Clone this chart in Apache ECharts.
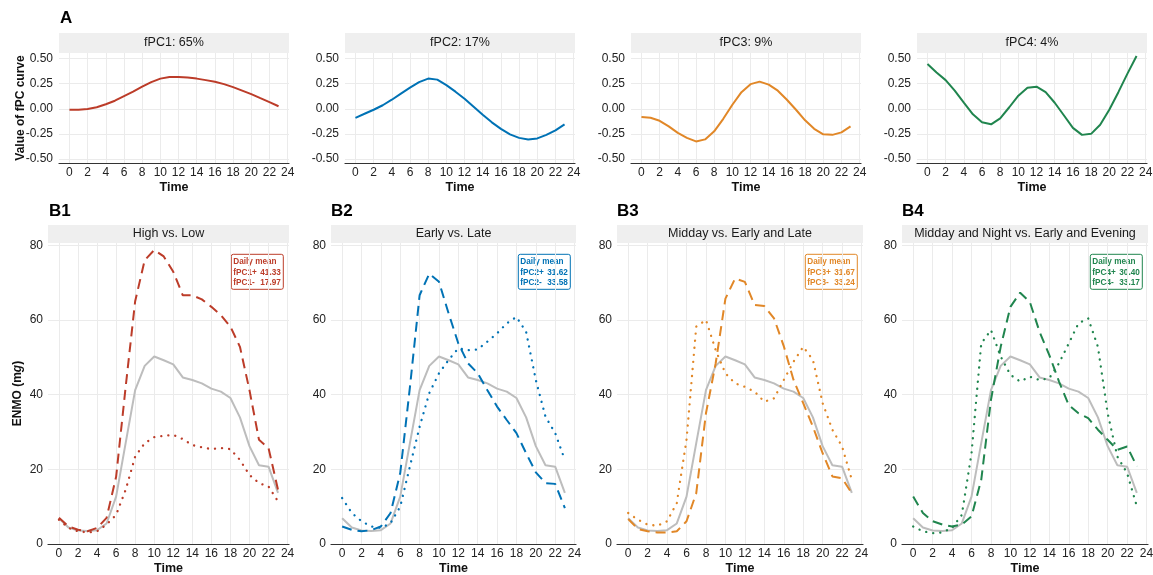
<!DOCTYPE html>
<html>
<head>
<meta charset="utf-8">
<script src="https://cdn.jsdelivr.net/npm/echarts@6/dist/echarts.min.js"></script>
<style>html,body{margin:0;padding:0;background:#fff}#c{width:1153px;height:575px}</style>
</head>
<body>
<div id="c"></div>
<script>
// ---------------- DATA ----------------
const hours = [0,1,2,3,4,5,6,7,8,9,10,11,12,13,14,15,16,17,18,19,20,21,22,23];
const xTicks = [0,2,4,6,8,10,12,14,16,18,20,22,24];
const yTicksA = [-0.5,-0.25,0,0.25,0.5];
const yTicksB = [0,20,40,60,80];

const fpcTitles = ['fPC1: 65%','fPC2: 17%','fPC3: 9%','fPC4: 4%'];
const fpc1 = [-0.01,-0.01,-0.003,0.015,0.045,0.08,0.125,0.17,0.22,0.265,0.30,0.315,0.317,0.31,0.30,0.285,0.268,0.245,0.215,0.18,0.145,0.105,0.066,0.025];
const fpc2 = [-0.09,-0.05,-0.01,0.035,0.09,0.15,0.21,0.265,0.30,0.29,0.235,0.17,0.10,0.02,-0.06,-0.135,-0.2,-0.255,-0.29,-0.305,-0.295,-0.26,-0.215,-0.155];
const fpc3 = [-0.083,-0.09,-0.12,-0.175,-0.24,-0.29,-0.325,-0.305,-0.225,-0.1,0.04,0.165,0.245,0.27,0.24,0.18,0.09,-0.01,-0.115,-0.2,-0.255,-0.26,-0.235,-0.175];
const fpc4 = [0.445,0.36,0.285,0.18,0.06,-0.055,-0.135,-0.155,-0.095,0.015,0.13,0.21,0.22,0.165,0.06,-0.065,-0.19,-0.26,-0.25,-0.16,-0.01,0.165,0.35,0.525];

const groupTitles = ['High vs. Low','Early vs. Late','Midday vs. Early and Late','Midday and Night vs. Early and Evening'];
const meanCurve = [6.9,4.4,3.6,3.5,3.7,5.5,12.7,27,41.2,47.7,50.2,49.2,48.1,44.6,43.9,43.0,41.6,40.8,39.1,33.9,26.2,21.1,20.7,13.7];
const pc1Plus  = [7,4.7,3.8,3.4,4.3,7,18,42,65,76,78.7,77,72.9,66.6,66.6,65.5,63.5,61.3,58.2,52.8,41.2,27.9,25.7,14.5];
const pc1Minus = [6.5,4.3,3.4,3.1,3.4,5.2,7.8,14.5,23.4,27,28.6,29,29.2,28.1,26.5,25.9,25.4,25.7,25.4,22.5,18.5,16.3,15.4,11.4];
const pc2Plus  = [4.7,3.8,3.4,3.7,4.7,8.3,19,42,66.6,72.4,70.2,61.7,53.7,48.4,45.7,41.2,36.8,33.2,29.7,24.3,19.2,16.3,16.1,9.6];
const pc2Minus = [12.3,8.3,6.1,4.7,4.3,5.6,10,20.8,31.4,40.4,45.7,49.3,52.4,51.9,52.1,54.2,56.4,59.1,60.8,56.8,43.9,34.1,29.7,22.5];
const pc3Plus  = [6.7,4,3.4,3.1,3.1,3.4,6.1,13.6,35,48.4,65.7,71.1,70.2,64,63.7,60.4,53,44,37.7,31.4,24.3,18.1,17.6,13.6];
const pc3Minus = [8.3,6.5,5.2,4.9,6.1,11,27.9,58.2,60,51.9,45.7,43,42.1,40.8,38.1,39,43.9,48.8,52.8,49.3,37.7,30.6,26.1,17.2];
const pc4Plus  = [12.7,8.3,6.1,5.2,4.7,5.2,7.4,17.2,38.6,52.8,63.5,67.3,64.8,56.8,50.6,43.5,37.2,35,33.7,30.6,27.9,25.2,26.1,20.8];
const pc4Minus = [4.7,3.4,2.9,3.1,4.3,7.8,24.3,53.7,57.3,50.2,45.3,43.5,44.8,43.9,44.4,48.4,53.7,59.1,60.4,52.8,35,23.4,19,10.1];

const plusNames = ['fPC1+','fPC2+','fPC3+','fPC4+'];
const minusNames = ['fPC1-','fPC2-','fPC3-','fPC4-'];
const dailyMeanPlus = [41.33,31.62,31.67,30.40];
const dailyMeanMinus = [17.97,33.58,33.24,33.17];

// ---------------- LAYOUT / STYLE ----------------
const colors = ['#BC3C29','#0072B5','#E18727','#20854E'];
const meanColor = '#BDBDBD';
const FF = '"Liberation Sans", Arial, Helvetica, sans-serif';
const gridColor = '#EBEBEB';

const topCurves = [fpc1,fpc2,fpc3,fpc4];
const plusCurves = [pc1Plus,pc2Plus,pc3Plus,pc4Plus];
const minusCurves = [pc1Minus,pc2Minus,pc3Minus,pc4Minus];
const toPts = arr => hours.map((h,i)=>[h, arr[i]]);

const topGrid = [0,1,2,3].map(i => ({left: 59 + 286*i, top: 53, width: 230, height: 110}));
const botLefts = [48, 331, 617, 902];
const botWidths = [241, 245, 246, 246];
const botGrid = [0,1,2,3].map(i => ({left: botLefts[i], top: 243, width: botWidths[i], height: 301}));
const grids = topGrid.concat(botGrid);

const xAxes = [], yAxes = [], series = [], graphics = [];

grids.forEach((g, k) => {
  xAxes.push({
    type: 'value', gridIndex: k, min: -1.15, max: 24.15,
    axisLine: {show: true, onZero: false, lineStyle: {color: '#333', width: 1.2}},
    axisTick: {show: false, customValues: xTicks},
    axisLabel: {customValues: xTicks, fontSize: 12, color: '#222', fontFamily: FF, margin: 4},
    splitLine: {show: true, lineStyle: {color: gridColor, width: 1}},
    name: 'Time', nameLocation: 'middle', nameGap: 18.5, nameMoveOverlap: false,
    nameTextStyle: {fontWeight: 'bold', fontSize: 12.5, color: '#111', fontFamily: FF}
  });
});

topGrid.forEach((g, i) => {
  yAxes.push({
    type: 'value', gridIndex: i, min: -0.54, max: 0.555,
    axisLine: {show: false, onZero: false},
    axisTick: {show: false, customValues: yTicksA},
    axisLabel: {customValues: yTicksA, fontSize: 12, color: '#222', fontFamily: FF, margin: 6,
      formatter: v => v.toFixed(2)},
    splitLine: {show: true, lineStyle: {color: gridColor, width: 1}},
    name: i === 0 ? 'Value of fPC curve' : '', nameLocation: 'middle', nameRotate: 90, nameGap: 32,
    nameMoveOverlap: false,
    nameTextStyle: {fontWeight: 'bold', fontSize: 12, color: '#111', fontFamily: FF}
  });
  series.push({
    type: 'line', xAxisIndex: i, yAxisIndex: i, data: toPts(topCurves[i]),
    showSymbol: false, symbol: 'none', smooth: false, clip: false,
    lineStyle: {color: colors[i], width: 2}
  });
  graphics.push({type: 'rect', shape: {x: g.left, y: 33, width: g.width, height: 20}, style: {fill: '#EFEFEF'}});
  graphics.push({type: 'text', x: g.left + g.width/2, y: 43,
    style: {text: fpcTitles[i], font: '12.5px ' + FF, fill: '#1a1a1a', align: 'center', verticalAlign: 'middle'}});
});

botGrid.forEach((g, i) => {
  const k = i + 4;
  yAxes.push({
    type: 'value', gridIndex: k, min: 0, max: 80.6,
    axisLine: {show: false, onZero: false},
    axisTick: {show: false, customValues: yTicksB},
    axisLabel: {customValues: yTicksB, fontSize: 12, color: '#222', fontFamily: FF, margin: 5},
    splitLine: {show: true, lineStyle: {color: gridColor, width: 1}},
    name: i === 0 ? '{b|ENMO (m}{i|g}{b|)}' : '', nameLocation: 'middle', nameRotate: 90, nameGap: 24,
    nameMoveOverlap: false,
    nameTextStyle: {color: '#111', fontFamily: FF,
      rich: {b: {fontWeight: 'bold', fontSize: 12, color: '#111', fontFamily: FF},
             i: {fontWeight: 'bold', fontStyle: 'italic', fontSize: 12, color: '#111', fontFamily: FF}}}
  });
  series.push({
    type: 'line', xAxisIndex: k, yAxisIndex: k, data: toPts(meanCurve),
    showSymbol: false, symbol: 'none', clip: false,
    lineStyle: {color: meanColor, width: 2}
  });
  series.push({
    type: 'line', xAxisIndex: k, yAxisIndex: k, data: toPts(plusCurves[i]),
    showSymbol: false, symbol: 'none', clip: false,
    lineStyle: {color: colors[i], width: 2, type: [10, 6]}
  });
  series.push({
    type: 'line', xAxisIndex: k, yAxisIndex: k, data: toPts(minusCurves[i]),
    showSymbol: false, symbol: 'none', clip: false,
    lineStyle: {color: colors[i], width: 2.3, type: [0.1, 7], cap: 'round'}
  });
  graphics.push({type: 'rect', shape: {x: g.left, y: 225, width: g.width, height: 18}, style: {fill: '#EFEFEF'}});
  graphics.push({type: 'text', x: g.left + g.width/2, y: 234,
    style: {text: groupTitles[i], font: '12.5px ' + FF, fill: '#1a1a1a', align: 'center', verticalAlign: 'middle'}});
  // daily mean box
  const bw = 52, bh = 35;
  const bx = g.left + g.width - 5.7 - bw, by = 254.3;
  graphics.push({type: 'rect', shape: {x: bx, y: by, width: bw, height: bh, r: 2},
    style: {fill: '#fff', stroke: colors[i], lineWidth: 1}});
  const f8 = 'bold 8.2px ' + FF;
  graphics.push({type: 'text', x: bx + 2, y: by + 7.6,
    style: {text: 'Daily mean', font: f8, fill: colors[i], align: 'left', verticalAlign: 'middle'}});
  graphics.push({type: 'text', x: bx + 2, y: by + 18.1,
    style: {text: plusNames[i], font: f8, fill: colors[i], align: 'left', verticalAlign: 'middle'}});
  graphics.push({type: 'text', x: bx + bw - 2.5, y: by + 18.1,
    style: {text: dailyMeanPlus[i].toFixed(2), font: f8, fill: colors[i], align: 'right', verticalAlign: 'middle'}});
  graphics.push({type: 'text', x: bx + 2, y: by + 28.2,
    style: {text: minusNames[i], font: f8, fill: colors[i], align: 'left', verticalAlign: 'middle'}});
  graphics.push({type: 'text', x: bx + bw - 2.5, y: by + 28.2,
    style: {text: dailyMeanMinus[i].toFixed(2), font: f8, fill: colors[i], align: 'right', verticalAlign: 'middle'}});
});

// panel letters
const letters = ['A','B1','B2','B3','B4'];
const letterPos = [[60, 18], [49, 211], [331, 211], [617, 211], [902, 211]];
letters.forEach((t, i) => {
  graphics.push({type: 'text', x: letterPos[i][0], y: letterPos[i][1],
    style: {text: t, font: 'bold 17px ' + FF, fill: '#000', align: 'left', verticalAlign: 'middle'}});
});

const chart = echarts.init(document.getElementById('c'), null, {renderer: 'canvas'});
chart.setOption({
  animation: false,
  backgroundColor: '#fff',
  grid: grids.map(g => Object.assign({containLabel: false, outerBoundsMode: 'none'}, g)),
  xAxis: xAxes,
  yAxis: yAxes,
  series: series,
  graphic: {elements: graphics}
});
</script>
</body>
</html>
